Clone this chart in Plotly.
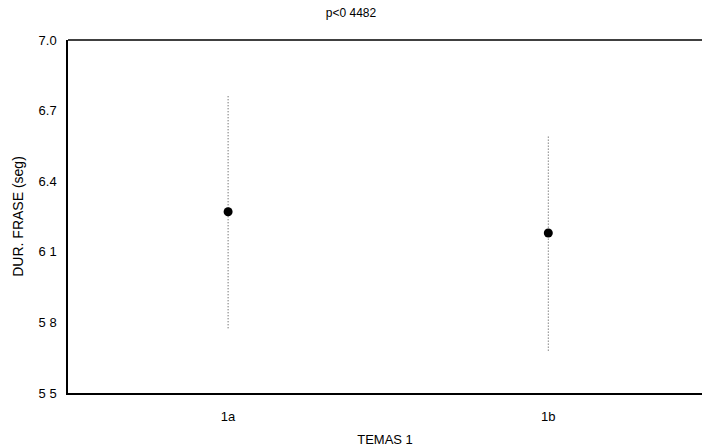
import plotly.graph_objects as go

# Mean phrase duration per theme with interval bounds
categories = ["1a", "1b"]
means = [6.27, 6.18]
upper = [6.765, 6.59]
lower = [5.775, 5.68]

y_tick_vals = [5.5, 5.8, 6.1, 6.4, 6.7, 7.0]
y_tick_text = ["5 5", "5 8", "6 1", "6.4", "6.7", "7.0"]

xs = list(range(len(categories)))

fig = go.Figure()

# dotted interval lines
for x, lo, hi in zip(xs, lower, upper):
    fig.add_trace(go.Scatter(
        x=[x, x], y=[lo, hi], mode="lines",
        line=dict(color="#444", width=1, dash="1px,2px"),
        showlegend=False, hoverinfo="skip",
    ))

# mean markers
fig.add_trace(go.Scatter(
    x=xs, y=means, mode="markers",
    marker=dict(color="black", size=9, symbol="circle"),
    showlegend=False,
))

font = dict(family="Liberation Sans, Arial, sans-serif", size=13, color="black")

fig.update_layout(
    width=702, height=447,
    margin=dict(l=68, r=0, t=40, b=54),
    paper_bgcolor="white", plot_bgcolor="white",
    font=font,
    title=dict(text="p<0 4482", x=0.5, xanchor="center", y=0.972, yanchor="middle",
               font=dict(size=12)),
    xaxis=dict(
        range=[-0.5, 1.48], tickvals=xs, ticktext=categories,
        showgrid=False, zeroline=False, showline=True, linecolor="black",
        linewidth=1.5, mirror=False, ticks="", ticklabelstandoff=11,
        automargin=False,
        title=dict(text="TEMAS 1", standoff=14, font=dict(size=13)),
    ),
    yaxis=dict(
        range=[5.5, 7.0], tickvals=y_tick_vals, ticktext=y_tick_text,
        showgrid=False, zeroline=False, showline=True, linecolor="black",
        linewidth=1.5, ticks="", ticklabelstandoff=7, automargin=False,
        title=dict(text="DUR. FRASE (seg)", standoff=12, font=dict(size=14)),
    ),
)

# top frame line
fig.add_shape(type="line", xref="paper", yref="paper", x0=0, x1=1, y0=1, y1=1,
              line=dict(color="black", width=1.5))

fig.write_html("out.html")
